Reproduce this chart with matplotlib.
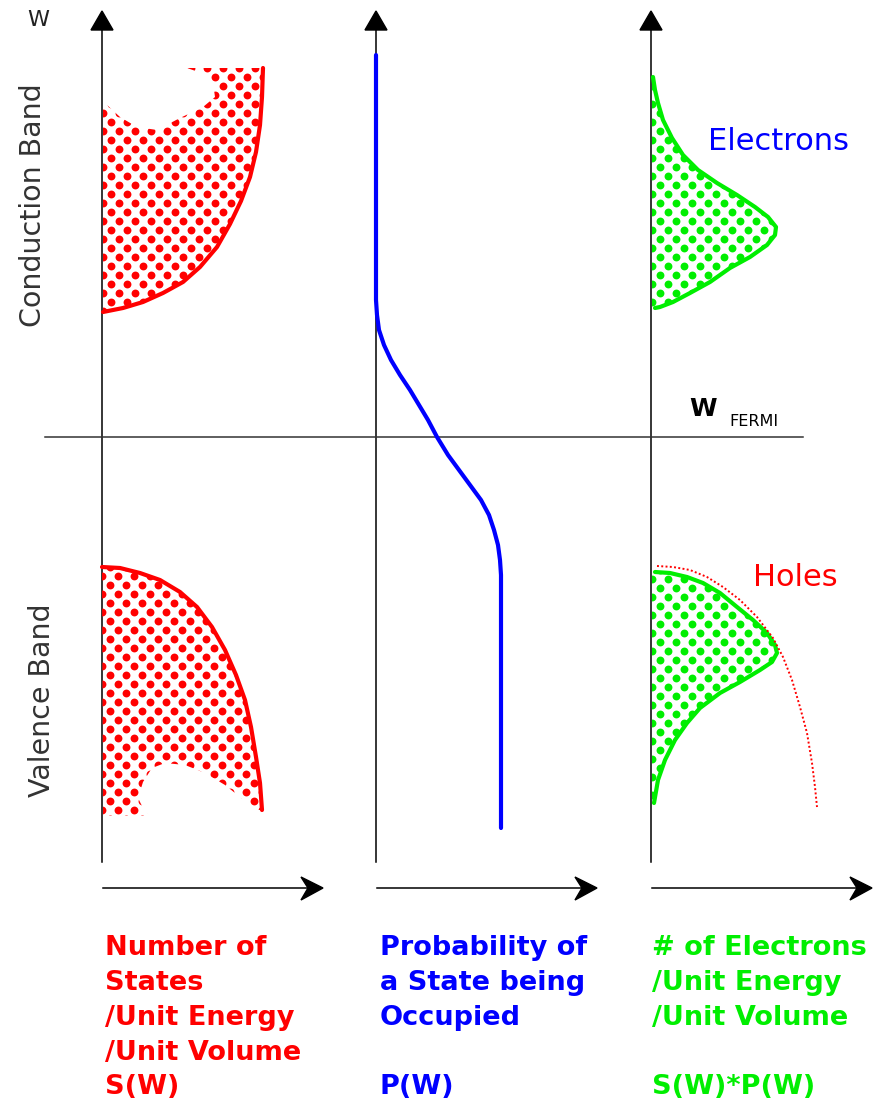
import numpy as np
import matplotlib
matplotlib.use('Agg')
from matplotlib import pyplot as plt
from matplotlib.patches import Polygon

# ---- diagram data (pixel-like units, y grows downward) ----
axis_x = [102, 376, 651]
fermi_y = 437

# density of states, conduction band (outline, bottom -> top)
s_cond_x = [103, 123, 143, 163, 183, 200, 217, 230, 241, 250, 256, 260, 262, 263]
s_cond_y = [312, 308, 302, 293, 282, 267, 247, 224, 201, 177, 152, 125, 97, 68]
# top edge of the dotted fill (with the white bite), right -> left
s_cond_top_x = [187, 207, 213, 215, 203, 180, 157, 137, 120, 107, 103]
s_cond_top_y = [68, 75, 83, 97, 107, 118, 130, 127, 117, 105, 103]

# density of states, valence band (outline, top -> bottom)
s_val_x = [102, 120, 140, 160, 180, 197, 212, 225, 236, 245, 251, 256, 260, 262]
s_val_y = [567, 568, 573, 580, 592, 607, 627, 650, 675, 700, 727, 757, 783, 810]
s_val_bot_x = [253, 240, 225, 205, 185, 165, 152, 143, 138, 145, 150, 103]
s_val_bot_y = [810, 797, 785, 773, 765, 763, 768, 782, 798, 812, 816, 816]

# occupation probability P(W)
p_x = [376, 376, 377, 379, 384, 391, 400, 410, 419, 428, 437, 448, 459, 470,
       481, 489, 494, 498, 500, 501, 501]
p_y = [55, 300, 315, 330, 345, 360, 375, 390, 405, 420, 437, 455, 470, 485,
       500, 515, 530, 545, 560, 575, 828]

# electrons S*P (top -> bottom)
e_x = [653, 655, 658, 663, 672, 683, 698, 717, 737, 755, 768, 776, 775, 767,
       750, 730, 710, 690, 673, 660, 655]
e_y = [77, 90, 103, 120, 138, 155, 170, 183, 195, 207, 217, 227, 235, 245,
       257, 268, 282, 293, 302, 307, 308]

# holes region S*P (top -> bottom)
h_x = [655, 670, 687, 703, 720, 737, 753, 767, 775, 777, 772, 760, 740, 720,
       700, 687, 675, 665, 658, 654]
h_y = [572, 573, 577, 583, 593, 607, 620, 633, 645, 653, 662, 670, 682, 693,
       708, 723, 740, 760, 780, 803]

# dotted S(W) shown in the right panel
sd_x = [657, 673, 690, 707, 723, 740, 757, 773, 783, 792, 800, 807, 812, 815, 817]
sd_y = [566, 567, 570, 577, 587, 600, 617, 638, 657, 680, 707, 733, 763, 787, 807]

red_lines = ['Number of', 'States', '/Unit Energy', '/Unit Volume', 'S(W)']
blue_lines = ['Probability of', 'a State being', 'Occupied', '', 'P(W)']
green_lines = ['# of Electrons', '/Unit Energy', '/Unit Volume', '', 'S(W)*P(W)']
row_y = [948, 983, 1018, 1053, 1087]

RED = '#ff0000'
BLUE = '#0000ff'
GREEN = '#00ee00'

fig = plt.figure(figsize=(8.83, 11.04), dpi=100)
ax = fig.add_axes([0, 0, 1, 1])
ax.set_xlim(0, 883)
ax.set_ylim(1104, 0)
ax.axis('off')


def dotted_fill(xs, ys, color):
    poly = Polygon(np.column_stack([xs, ys]), closed=True, fill=False, lw=0)
    ax.add_patch(poly)
    x0, x1 = min(xs), max(xs)
    y0, y1 = min(ys), max(ys)
    pts = []
    for k, yy in enumerate(np.arange(y0, y1 + 9, 9)):
        off = 8 if k % 2 else 0
        for xx in np.arange(x0 - 8 + off, x1 + 16, 16):
            pts.append((xx, yy))
    pts = np.array(pts)
    sc = ax.scatter(pts[:, 0], pts[:, 1], s=32, color=color, lw=0, zorder=2)
    sc.set_clip_path(poly)


# fills
dotted_fill(s_cond_x + s_cond_top_x, s_cond_y + s_cond_top_y, RED)
dotted_fill(s_val_x + s_val_bot_x, s_val_y + s_val_bot_y, RED)
dotted_fill(e_x + [652, 652], e_y + [308, 77], GREEN)
dotted_fill(h_x + [652, 652], h_y + [803, 570], GREEN)

# curves
kw = dict(lw=3, zorder=3, solid_capstyle='round', solid_joinstyle='round')
ax.plot(s_cond_x, s_cond_y, color=RED, **kw)
ax.plot(s_val_x, s_val_y, color=RED, **kw)
ax.plot(p_x, p_y, color=BLUE, **kw)
ax.plot(e_x, e_y, color=GREEN, **kw)
ax.plot(h_x, h_y, color=GREEN, **kw)
ax.plot(sd_x, sd_y, color=RED, lw=1.4, ls=(0, (1, 1.2)), zorder=4)

# axes lines and arrows
for x in axis_x:
    ax.plot([x, x], [28, 862], color='black', lw=1.1, zorder=1)
    ax.add_patch(Polygon([(x, 11), (x - 11, 30), (x + 11, 30)], closed=True,
                         color='black', zorder=5))
ax.plot([45, 803], [fermi_y, fermi_y], color='#333333', lw=1.1, zorder=1)

for x0 in axis_x:
    x1 = x0 + 221
    ax.plot([x0 + 1, x1 - 8], [888, 888], color='black', lw=1.1)
    ax.add_patch(Polygon([(x1, 888), (x1 - 22, 877), (x1 - 15, 888), (x1 - 22, 900)],
                         closed=True, color='black'))

# texts
ax.text(38, 20, 'W', fontsize=16, ha='center', va='center', color='#222222')
ax.text(33, 205, 'Conduction Band', rotation=90, fontsize=20.5, ha='center',
        va='center', color='#333333')
ax.text(42, 700, 'Valence Band', rotation=90, fontsize=20.5, ha='center',
        va='center', color='#333333')
ax.text(689, 409, 'W', fontsize=18, fontweight='bold', ha='left', va='center',
        color='black')
ax.text(729, 422, 'FERMI', fontsize=11.5, ha='left', va='center', color='black')
ax.text(708, 142, 'Electrons', fontsize=22, ha='left', va='center', color=BLUE)
ax.text(753, 577, 'Holes', fontsize=22, ha='left', va='center', color=RED)

for lines, x, c in [(red_lines, 105, RED), (blue_lines, 380, BLUE), (green_lines, 652, GREEN)]:
    for t, y in zip(lines, row_y):
        if t:
            ax.text(x, y, t, fontsize=19.5, fontweight='bold', ha='left',
                    va='center', color=c)

plt.savefig('out.png', dpi=100)
